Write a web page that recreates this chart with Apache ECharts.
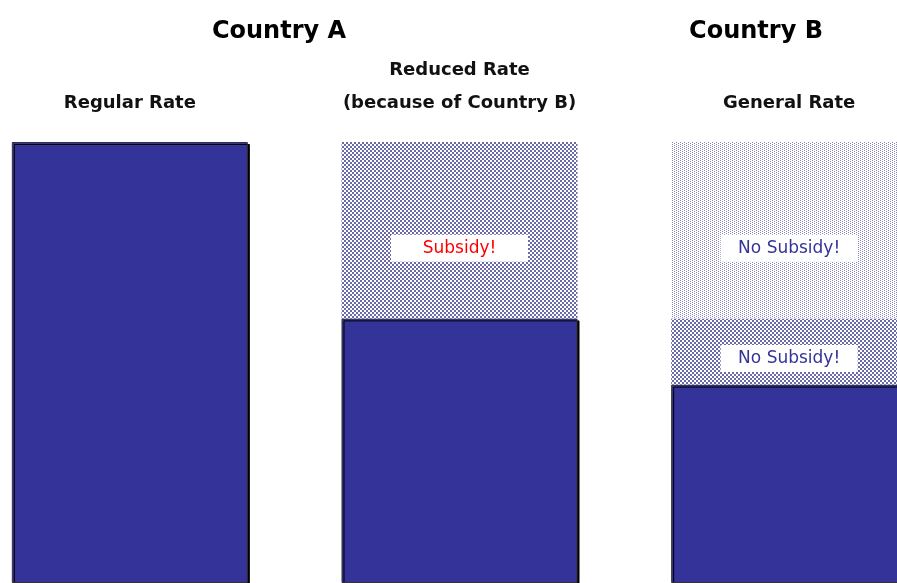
<!DOCTYPE html>
<html>
<head>
<meta charset="utf-8">
<script src="https://cdn.jsdelivr.net/npm/echarts@6/dist/echarts.min.js"></script>
<style>
html,body{margin:0;padding:0;background:#fff;overflow:hidden;}
#chart{width:897px;height:583px;}
</style>
</head>
<body>
<div id="chart"></div>
<script>
// ---- data ----
const countryTitles = ['Country A', 'Country B'];
const categories = ['Regular Rate', 'Reduced Rate\n(because of Country B)', 'General Rate'];
const paidValues = [100, 60, 45];          // solid portion
const reducedGapValues = [null, 40, 15];   // dense pattern portion
const generalGapValues = [null, null, 40]; // light pattern portion
const gapLabels = [null, 'Subsidy!', 'No Subsidy!'];
const topLabels = [null, null, 'No Subsidy!'];

function makePattern(dot, bg, size, cells) {
  const c = document.createElement('canvas');
  c.width = size; c.height = size;
  const ctx = c.getContext('2d');
  ctx.fillStyle = bg; ctx.fillRect(0, 0, size, size);
  ctx.fillStyle = dot;
  cells.forEach(function (p) { ctx.fillRect(p[0], p[1], p[2], p[3]); });
  return c;
}
const densePat = makePattern('#6a6aa8', '#ffffff', 4, [[0,0,2,2],[2,2,2,2]]);
const lightPat = makePattern('#8686bc', '#ffffff', 4, [[0,0,1,1],[2,1,1,1],[0,2,1,1],[2,3,1,1]]);

const chart = echarts.init(document.getElementById('chart'), null, {renderer: 'canvas'});
const labelBase = {
  show: true, position: 'inside', fontFamily: 'DejaVu Sans', fontSize: 17,
  backgroundColor: '#ffffff', width: 137, align: 'center', padding: [5, 0, 5, 0]
};
chart.setOption({
  animation: false,
  backgroundColor: '#ffffff',
  title: [
    {text: countryTitles[0], left: 274, top: 15, textAlign: 'center',
     textStyle: {fontFamily: 'DejaVu Sans', fontWeight: 'bold', fontSize: 24, color: '#000'}},
    {text: countryTitles[1], left: 751, top: 15, textAlign: 'center',
     textStyle: {fontFamily: 'DejaVu Sans', fontWeight: 'bold', fontSize: 24, color: '#000'}}
  ],
  grid: {left: -35, right: -57, top: 142, bottom: 0, containLabel: false, outerBoundsMode: 'none'},
  xAxis: {
    type: 'category', position: 'top', data: categories,
    axisLine: {show: false}, axisTick: {show: false},
    axisLabel: {fontFamily: 'DejaVu Sans', fontWeight: 'bold', fontSize: 18, color: '#111',
                margin: 22, lineHeight: 33, interval: 0}
  },
  yAxis: {type: 'value', min: 0, max: 100, show: false, splitLine: {show: false}},
  series: [
    {type: 'bar', stack: 's', barWidth: 236, data: paidValues,
     itemStyle: {color: '#333399', borderColor: '#333333', borderWidth: 1,
                 shadowColor: '#000', shadowOffsetX: 2, shadowOffsetY: 2, shadowBlur: 0}},
    {type: 'bar', stack: 's', barWidth: 236,
     data: reducedGapValues.map(function (v, i) {
       if (v == null) return null;
       return {value: v, label: Object.assign({}, labelBase, {
         formatter: gapLabels[i], color: i === 1 ? '#ff0000' : '#333399',
         offset: [0, i === 1 ? 18 : 7]})};
     }),
     itemStyle: {color: {image: densePat, repeat: 'repeat'}}},
    {type: 'bar', stack: 's', barWidth: 236,
     data: generalGapValues.map(function (v, i) {
       if (v == null) return null;
       return {value: v, label: Object.assign({}, labelBase, {
         formatter: topLabels[i], color: '#333399', offset: [0, 18]})};
     }),
     itemStyle: {color: {image: lightPat, repeat: 'repeat'}}}
  ]
});
</script>
</body>
</html>
